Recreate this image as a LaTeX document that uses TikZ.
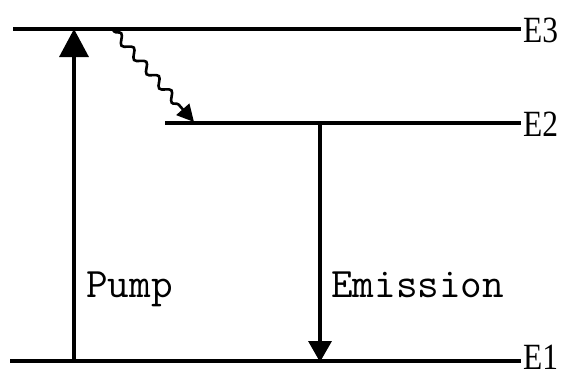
\documentclass[tikz,border=0pt]{standalone}
\usepackage{fontspec}
\usetikzlibrary{arrows.meta,decorations.pathmorphing}
\newfontfamily\monofont{Latin Modern Mono}
\newfontfamily\labfont{Liberation Serif}
\begin{document}
\begin{tikzpicture}[x=1pt,y=-1pt,
  level/.style={line width=3.4pt},
  shaft/.style={line width=3.4pt},
  lvlabel/.style={anchor=west,inner sep=0pt,font=\labfont\fontsize{37}{37}\selectfont,xscale=0.85},
  tlabel/.style={anchor=base west,inner sep=0pt,font=\monofont\fontsize{42}{42}\selectfont}]
\useasboundingbox (0,0) rectangle (567,376);
% levels
\coordinate (e3l) at (13,29);  \coordinate (e3r) at (521,29);
\coordinate (e2l) at (165,123); \coordinate (e2r) at (521,123);
\coordinate (e1l) at (10,361);  \coordinate (e1r) at (521,361);
\draw[level] (e3l) -- (e3r);
\draw[level] (e2l) -- (e2r);
\draw[level] (e1l) -- (e1r);
\node[lvlabel] (lE3) at (523,30) {E3};
\node[lvlabel] (lE2) at (523,124) {E2};
\node[lvlabel] (lE1) at (523,357) {E1};
% pump
\coordinate (p0) at (74,361); \coordinate (p1) at (74,29);
\draw[shaft,-{Triangle[width=29pt,length=28pt]}] (p0) -- (p1);
\node[tlabel] (pump) at (86,297) {Pump};
% emission
\coordinate (m0) at (320,123); \coordinate (m1) at (320,362);
\draw[shaft,-{Triangle[width=23pt,length=21pt]}] (m0) -- (m1);
\node[tlabel] (emis) at (331,297) {Emission};
% non-radiative decay
\coordinate (w0) at (113,30); \coordinate (w1) at (194,122);
\draw[line width=2.6pt,decorate,decoration={snake,amplitude=4pt,segment length=19pt,pre length=2pt,post length=14pt},
  -{Triangle[width=17pt,length=17pt]}] (w0) -- (w1);
\end{tikzpicture}
\end{document}
